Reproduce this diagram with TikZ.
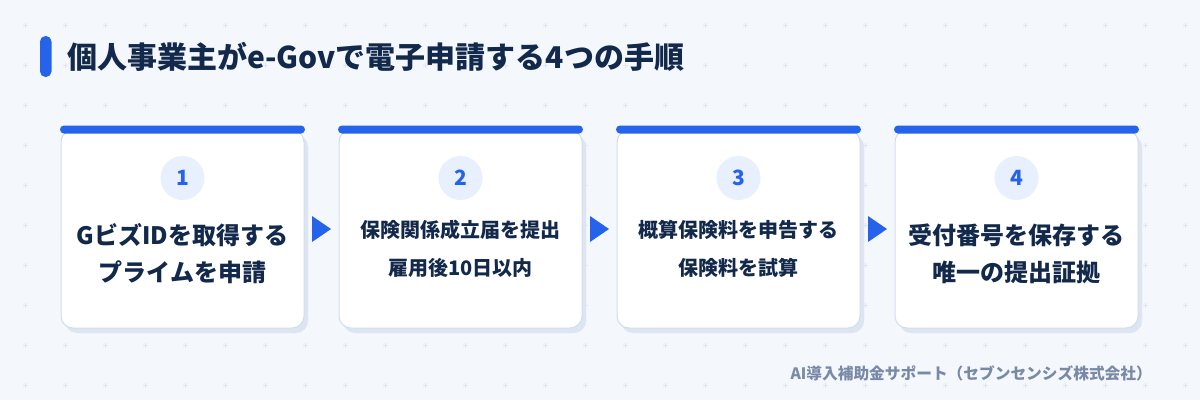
\documentclass[tikz,border=0pt]{standalone}
\usepackage{fontspec}
\setmainfont{Noto Sans CJK JP}
\usepackage{tikz}
\usetikzlibrary{positioning, calc, shadows}

\definecolor{bgc}{HTML}{F4F7FC}
\definecolor{gridc}{HTML}{E0E6F0}
\definecolor{mainblue}{HTML}{2563EB}
\definecolor{navy}{HTML}{13294B}
\definecolor{cardline}{HTML}{D3DEEC}
\definecolor{shadowc}{HTML}{DCE5F1}
\definecolor{numbg}{HTML}{E8F0FD}
\definecolor{footc}{HTML}{7A8AA6}

\begin{document}
\begin{tikzpicture}[x=1pt, y=-1pt,
    card/.style={rectangle, rounded corners=12pt, fill=white, draw=cardline, line width=1pt,
        minimum width=243pt, minimum height=198pt, inner sep=0pt,
        drop shadow={shadow xshift=4pt, shadow yshift=-5pt, fill=shadowc, opacity=1}},
    topbar/.style={rectangle, rounded corners=4pt, fill=mainblue, minimum width=245pt, minimum height=8pt, inner sep=0pt},
    numdot/.style={circle, fill=numbg, minimum size=44pt, inner sep=0pt, text=mainblue,
        font=\fontsize{21}{24}\selectfont\bfseries},
    bigtext/.style={align=center, text=navy, font=\fontsize{24}{37}\selectfont\bfseries},
    smalltext/.style={align=center, text=navy, font=\fontsize{20}{38}\selectfont\bfseries},
    stepmark/.style={fill=mainblue}
  ]
  % Background
  \fill[bgc] (0,0) rectangle (1200,400);
  \useasboundingbox (0,0) rectangle (1200,400);
  \foreach \gx in {25,65,...,1185} {
    \foreach \gy in {25,65,...,385} {
      \draw[gridc, line width=0.8pt] (\gx-2.5,\gy) -- (\gx+2.5,\gy) (\gx,\gy-2.5) -- (\gx,\gy+2.5);
    }
  }

  % Title
  \fill[mainblue, rounded corners=5.5pt] (40,36) rectangle (51.5,77);
  \node[anchor=west, inner sep=0pt, text=navy, font=\fontsize{30}{34}\selectfont\bfseries] (title) at (67,57)
    {個人事業主がe-Govで電子申請する4つの手順};

  % Cards
  \node[card] (c1) at (182.5,229) {};
  \node[card] (c2) at (460.5,229) {};
  \node[card] (c3) at (738.5,229) {};
  \node[card] (c4) at (1016.5,229) {};
  \node[topbar] (b1) at (c1.north) {};
  \node[topbar] (b2) at (c2.north) {};
  \node[topbar] (b3) at (c3.north) {};
  \node[topbar] (b4) at (c4.north) {};

  % Step numbers
  \node[numdot] (n1) at (182.5,178) {1};
  \node[numdot] (n2) at (460.5,178) {2};
  \node[numdot] (n3) at (738.5,178) {3};
  \node[numdot] (n4) at (1016.5,178) {4};

  % Step texts
  \node[bigtext] (t1) at (182.5,253.5) {GビズIDを取得する\\プライムを申請};
  \node[smalltext] (t2) at (460.5,249) {保険関係成立届を提出\\雇用後10日以内};
  \node[smalltext] (t3) at (738.5,249) {概算保険料を申告する\\保険料を試算};
  \node[bigtext] (t4) at (1016.5,253.5) {受付番号を保存する\\唯一の提出証拠};

  % Arrows between cards
  \coordinate (a1) at ($(c1.east)!0.5!(c2.west)$);
  \coordinate (a2) at ($(c2.east)!0.5!(c3.west)$);
  \coordinate (a3) at ($(c3.east)!0.5!(c4.west)$);
  \fill[stepmark] ($(a1)+(-9.5,-13)$) -- ++(0,26) -- ++(19,-13) -- cycle;
  \fill[stepmark] ($(a2)+(-9.5,-13)$) -- ++(0,26) -- ++(19,-13) -- cycle;
  \fill[stepmark] ($(a3)+(-9.5,-13)$) -- ++(0,26) -- ++(19,-13) -- cycle;

  % Footer
  \node[anchor=east, inner sep=0pt, text=footc, font=\fontsize{15.7}{18}\selectfont\bfseries] (foot) at (1152,373)
    {AI導入補助金サポート（セブンセンシズ株式会社）};
\end{tikzpicture}
\end{document}
